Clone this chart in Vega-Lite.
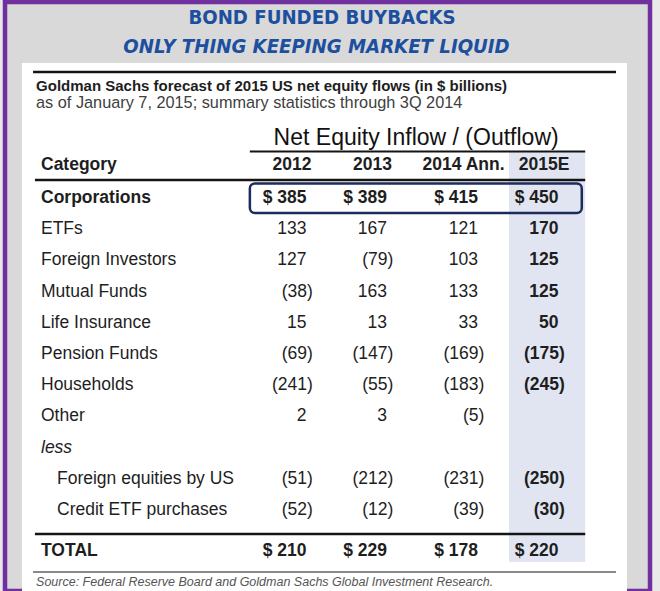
{
  "$schema": "https://vega.github.io/schema/vega-lite/v6.json",
  "width": 645,
  "height": 589,
  "autosize": "none",
  "padding": {"left": 5, "top": 2, "right": 10, "bottom": 0},
  "background": "#e9e9e9",
  "config": {
    "view": {"stroke": null, "fill": "#d9d9d9"},
    "text": {"font": "Liberation Sans", "fontSize": 17.5, "color": "#1e1e1e", "baseline": "middle"},
    "locale": {"number": {"decimal": ".", "thousands": ",", "grouping": [3], "currency": ["$ ", ""]}}
  },
  "datasets": {
    "flows": [
      {"category": "Corporations", "2012": 385, "2013": 389, "2014": 415, "2015": 450},
      {"category": "ETFs", "2012": 133, "2013": 167, "2014": 121, "2015": 170},
      {"category": "Foreign Investors", "2012": 127, "2013": -79, "2014": 103, "2015": 125},
      {"category": "Mutual Funds", "2012": -38, "2013": 163, "2014": 133, "2015": 125},
      {"category": "Life Insurance", "2012": 15, "2013": 13, "2014": 33, "2015": 50},
      {"category": "Pension Funds", "2012": -69, "2013": -147, "2014": -169, "2015": -175},
      {"category": "Households", "2012": -241, "2013": -55, "2014": -183, "2015": -245},
      {"category": "Other", "2012": 2, "2013": 3, "2014": -5},
      {"category": "less"},
      {"category": "Foreign equities by US", "parent": "less", "2012": -51, "2013": -212, "2014": -231, "2015": -250},
      {"category": "Credit ETF purchases", "parent": "less", "2012": -52, "2013": -12, "2014": -39, "2015": -30},
      {"category": "TOTAL", "2012": 210, "2013": 229, "2014": 178, "2015": 220}
    ],
    "columns": [
      {"year": 2012, "label": "2012"},
      {"year": 2013, "label": "2013"},
      {"year": 2014, "label": "2014 Ann."},
      {"year": 2015, "label": "2015E"}
    ]
  },
  "layer": [
    {
      "data": {"values": [{}]},
      "mark": {"type": "rect", "fill": "transparent", "stroke": "#7030a0", "strokeWidth": 4.5, "y2Offset": 20},
      "encoding": {}
    },
    {
      "data": {"values": [{"panel": "table"}]},
      "mark": {"type": "rect", "fill": "#ffffff", "yOffset": -103.8, "y2Offset": 60},
      "encoding": {
        "x": {"datum": 2008, "type": "quantitative", "scale": {"domain": [2008, 2009, 2012, 2013, 2014, 2015, 2016], "range": [17, 36, 301.5, 382, 473, 553.5, 622], "nice": false, "zero": false}, "axis": null},
        "x2": {"datum": 2016},
        "y": {"datum": "Category", "type": "nominal", "scale": {"type": "point", "domain": ["Category", "Corporations", "ETFs", "Foreign Investors", "Mutual Funds", "Life Insurance", "Pension Funds", "Households", "Other", "less", "Foreign equities by US", "Credit ETF purchases", "TOTAL"], "range": [164.8, 539.2], "padding": 0}, "axis": null},
        "y2": {"datum": "TOTAL"}
      }
    },
    {
      "data": {"values": [{"column": "2015E"}]},
      "mark": {"type": "rect", "fill": "#e1e5f1", "yOffset": -14.8, "y2Offset": 20.8},
      "encoding": {
        "x": {"datum": 2014.385, "type": "quantitative", "scale": {"domain": [2008, 2009, 2012, 2013, 2014, 2015, 2016], "range": [17, 36, 301.5, 382, 473, 553.5, 622], "nice": false, "zero": false}, "axis": null},
        "x2": {"datum": 2015.39},
        "y": {"datum": "Category", "type": "nominal", "scale": {"type": "point", "domain": ["Category", "Corporations", "ETFs", "Foreign Investors", "Mutual Funds", "Life Insurance", "Pension Funds", "Households", "Other", "less", "Foreign equities by US", "Credit ETF purchases", "TOTAL"], "range": [164.8, 539.2], "padding": 0}, "axis": null},
        "y2": {"datum": "TOTAL"}
      }
    },
    {
      "data": {"values": [{"rule": "top"}]},
      "mark": {"type": "rule", "color": "#141414", "strokeWidth": 2.5, "yOffset": -94.8},
      "encoding": {
        "x": {"datum": 2008.58, "type": "quantitative", "scale": {"domain": [2008, 2009, 2012, 2013, 2014, 2015, 2016], "range": [17, 36, 301.5, 382, 473, 553.5, 622], "nice": false, "zero": false}, "axis": null},
        "x2": {"datum": 2015.84},
        "y": {"datum": "Category", "type": "nominal", "scale": {"type": "point", "domain": ["Category", "Corporations", "ETFs", "Foreign Investors", "Mutual Funds", "Life Insurance", "Pension Funds", "Households", "Other", "less", "Foreign equities by US", "Credit ETF purchases", "TOTAL"], "range": [164.8, 539.2], "padding": 0}, "axis": null}
      }
    },
    {
      "data": {"values": [{"rule": "net equity"}]},
      "mark": {"type": "rule", "color": "#141414", "strokeWidth": 2, "yOffset": -15.3},
      "encoding": {
        "x": {"datum": 2011.36, "type": "quantitative", "scale": {"domain": [2008, 2009, 2012, 2013, 2014, 2015, 2016], "range": [17, 36, 301.5, 382, 473, 553.5, 622], "nice": false, "zero": false}, "axis": null},
        "x2": {"datum": 2015.39},
        "y": {"datum": "Category", "type": "nominal", "scale": {"type": "point", "domain": ["Category", "Corporations", "ETFs", "Foreign Investors", "Mutual Funds", "Life Insurance", "Pension Funds", "Households", "Other", "less", "Foreign equities by US", "Credit ETF purchases", "TOTAL"], "range": [164.8, 539.2], "padding": 0}, "axis": null}
      }
    },
    {
      "data": {"values": [{"rule": "header"}]},
      "mark": {"type": "rule", "color": "#141414", "strokeWidth": 2.5, "yOffset": 13.2},
      "encoding": {
        "x": {"datum": 2008.68, "type": "quantitative", "scale": {"domain": [2008, 2009, 2012, 2013, 2014, 2015, 2016], "range": [17, 36, 301.5, 382, 473, 553.5, 622], "nice": false, "zero": false}, "axis": null},
        "x2": {"datum": 2015.39},
        "y": {"datum": "Category", "type": "nominal", "scale": {"type": "point", "domain": ["Category", "Corporations", "ETFs", "Foreign Investors", "Mutual Funds", "Life Insurance", "Pension Funds", "Households", "Other", "less", "Foreign equities by US", "Credit ETF purchases", "TOTAL"], "range": [164.8, 539.2], "padding": 0}, "axis": null}
      }
    },
    {
      "data": {"values": [{"rule": "total"}]},
      "mark": {"type": "rule", "color": "#141414", "strokeWidth": 2.5, "yOffset": -7.2},
      "encoding": {
        "x": {"datum": 2008.68, "type": "quantitative", "scale": {"domain": [2008, 2009, 2012, 2013, 2014, 2015, 2016], "range": [17, 36, 301.5, 382, 473, 553.5, 622], "nice": false, "zero": false}, "axis": null},
        "x2": {"datum": 2015.39},
        "y": {"datum": "TOTAL", "type": "nominal", "scale": {"type": "point", "domain": ["Category", "Corporations", "ETFs", "Foreign Investors", "Mutual Funds", "Life Insurance", "Pension Funds", "Households", "Other", "less", "Foreign equities by US", "Credit ETF purchases", "TOTAL"], "range": [164.8, 539.2], "padding": 0}, "axis": null}
      }
    },
    {
      "data": {"values": [{"rule": "source"}]},
      "mark": {"type": "rule", "color": "#8a8a8a", "strokeWidth": 2, "yOffset": 30.8},
      "encoding": {
        "x": {"datum": 2008.58, "type": "quantitative", "scale": {"domain": [2008, 2009, 2012, 2013, 2014, 2015, 2016], "range": [17, 36, 301.5, 382, 473, 553.5, 622], "nice": false, "zero": false}, "axis": null},
        "x2": {"datum": 2015.84},
        "y": {"datum": "TOTAL", "type": "nominal", "scale": {"type": "point", "domain": ["Category", "Corporations", "ETFs", "Foreign Investors", "Mutual Funds", "Life Insurance", "Pension Funds", "Households", "Other", "less", "Foreign equities by US", "Credit ETF purchases", "TOTAL"], "range": [164.8, 539.2], "padding": 0}, "axis": null}
      }
    },
    {
      "data": {"values": [{"box": "Corporations"}]},
      "mark": {"type": "rect", "fill": "transparent", "stroke": "#1c2b5c", "strokeWidth": 2.5, "cornerRadius": 5, "yOffset": -14.5, "y2Offset": 15},
      "encoding": {
        "x": {"datum": 2011.36, "type": "quantitative", "scale": {"domain": [2008, 2009, 2012, 2013, 2014, 2015, 2016], "range": [17, 36, 301.5, 382, 473, 553.5, 622], "nice": false, "zero": false}, "axis": null},
        "x2": {"datum": 2015.34},
        "y": {"datum": "Corporations", "type": "nominal", "scale": {"type": "point", "domain": ["Category", "Corporations", "ETFs", "Foreign Investors", "Mutual Funds", "Life Insurance", "Pension Funds", "Households", "Other", "less", "Foreign equities by US", "Credit ETF purchases", "TOTAL"], "range": [164.8, 539.2], "padding": 0}, "axis": null},
        "y2": {"datum": "Corporations"}
      }
    },
    {
      "data": {"values": [{"text": "BOND FUNDED BUYBACKS"}]},
      "mark": {"type": "text", "font": "DejaVu Sans Condensed", "fontWeight": "bold", "fontSize": 20.2, "color": "#1d4f9f", "align": "center", "dx": -5.5, "dy": -148.8},
      "encoding": {
        "y": {"datum": "Category", "type": "nominal", "scale": {"type": "point", "domain": ["Category", "Corporations", "ETFs", "Foreign Investors", "Mutual Funds", "Life Insurance", "Pension Funds", "Households", "Other", "less", "Foreign equities by US", "Credit ETF purchases", "TOTAL"], "range": [164.8, 539.2], "padding": 0}, "axis": null},
        "text": {"field": "text"}
      }
    },
    {
      "data": {"values": [{"text": "ONLY THING KEEPING MARKET LIQUID"}]},
      "mark": {"type": "text", "font": "DejaVu Sans Condensed", "fontWeight": "bold", "fontStyle": "italic", "fontSize": 20.2, "color": "#1d4f9f", "align": "center", "dx": -11, "dy": -119.8},
      "encoding": {
        "y": {"datum": "Category", "type": "nominal", "scale": {"type": "point", "domain": ["Category", "Corporations", "ETFs", "Foreign Investors", "Mutual Funds", "Life Insurance", "Pension Funds", "Households", "Other", "less", "Foreign equities by US", "Credit ETF purchases", "TOTAL"], "range": [164.8, 539.2], "padding": 0}, "axis": null},
        "text": {"field": "text"}
      }
    },
    {
      "data": {"values": [{"text": "Goldman Sachs forecast of 2015 US net equity flows (in $ billions)"}]},
      "mark": {"type": "text", "fontWeight": "bold", "fontSize": 15, "align": "left", "dy": -80.8},
      "encoding": {
        "x": {"datum": 2008.74, "type": "quantitative", "scale": {"domain": [2008, 2009, 2012, 2013, 2014, 2015, 2016], "range": [17, 36, 301.5, 382, 473, 553.5, 622], "nice": false, "zero": false}, "axis": null},
        "y": {"datum": "Category", "type": "nominal", "scale": {"type": "point", "domain": ["Category", "Corporations", "ETFs", "Foreign Investors", "Mutual Funds", "Life Insurance", "Pension Funds", "Households", "Other", "less", "Foreign equities by US", "Credit ETF purchases", "TOTAL"], "range": [164.8, 539.2], "padding": 0}, "axis": null},
        "text": {"field": "text"}
      }
    },
    {
      "data": {"values": [{"text": "as of January 7, 2015; summary statistics through 3Q 2014"}]},
      "mark": {"type": "text", "fontSize": 16.3, "color": "#404040", "align": "left", "dy": -63.8},
      "encoding": {
        "x": {"datum": 2008.74, "type": "quantitative", "scale": {"domain": [2008, 2009, 2012, 2013, 2014, 2015, 2016], "range": [17, 36, 301.5, 382, 473, 553.5, 622], "nice": false, "zero": false}, "axis": null},
        "y": {"datum": "Category", "type": "nominal", "scale": {"type": "point", "domain": ["Category", "Corporations", "ETFs", "Foreign Investors", "Mutual Funds", "Life Insurance", "Pension Funds", "Households", "Other", "less", "Foreign equities by US", "Credit ETF purchases", "TOTAL"], "range": [164.8, 539.2], "padding": 0}, "axis": null},
        "text": {"field": "text"}
      }
    },
    {
      "data": {"values": [{"text": "Net Equity Inflow / (Outflow)"}]},
      "mark": {"type": "text", "fontSize": 23, "color": "#111111", "align": "center", "dy": -28.8},
      "encoding": {
        "x": {"datum": 2013.32, "type": "quantitative", "scale": {"domain": [2008, 2009, 2012, 2013, 2014, 2015, 2016], "range": [17, 36, 301.5, 382, 473, 553.5, 622], "nice": false, "zero": false}, "axis": null},
        "y": {"datum": "Category", "type": "nominal", "scale": {"type": "point", "domain": ["Category", "Corporations", "ETFs", "Foreign Investors", "Mutual Funds", "Life Insurance", "Pension Funds", "Households", "Other", "less", "Foreign equities by US", "Credit ETF purchases", "TOTAL"], "range": [164.8, 539.2], "padding": 0}, "axis": null},
        "text": {"field": "text"}
      }
    },
    {
      "data": {"name": "columns"},
      "mark": {"type": "text", "fontWeight": "bold", "align": "center", "dx": -14.5, "dy": -1.8},
      "encoding": {
        "x": {"field": "year", "type": "quantitative", "scale": {"domain": [2008, 2009, 2012, 2013, 2014, 2015, 2016], "range": [17, 36, 301.5, 382, 473, 553.5, 622], "nice": false, "zero": false}, "axis": null},
        "y": {"datum": "Category", "type": "nominal", "scale": {"type": "point", "domain": ["Category", "Corporations", "ETFs", "Foreign Investors", "Mutual Funds", "Life Insurance", "Pension Funds", "Households", "Other", "less", "Foreign equities by US", "Credit ETF purchases", "TOTAL"], "range": [164.8, 539.2], "padding": 0}, "axis": null},
        "text": {"field": "label"}
      }
    },
    {
      "data": {"values": [{"text": "Category"}]},
      "mark": {"type": "text", "fontWeight": "bold", "align": "left", "dy": -1.8},
      "encoding": {
        "x": {"datum": 2009, "type": "quantitative", "scale": {"domain": [2008, 2009, 2012, 2013, 2014, 2015, 2016], "range": [17, 36, 301.5, 382, 473, 553.5, 622], "nice": false, "zero": false}, "axis": null},
        "y": {"datum": "Category", "type": "nominal", "scale": {"type": "point", "domain": ["Category", "Corporations", "ETFs", "Foreign Investors", "Mutual Funds", "Life Insurance", "Pension Funds", "Households", "Other", "less", "Foreign equities by US", "Credit ETF purchases", "TOTAL"], "range": [164.8, 539.2], "padding": 0}, "axis": null},
        "text": {"field": "text"}
      }
    },
    {
      "data": {"name": "flows"},
      "transform": [{"filter": "indexof(['Corporations', 'TOTAL', 'less'], datum.category) < 0 && datum.parent != 'less'"}],
      "mark": {"type": "text", "align": "left"},
      "encoding": {
        "x": {"datum": 2009, "type": "quantitative", "scale": {"domain": [2008, 2009, 2012, 2013, 2014, 2015, 2016], "range": [17, 36, 301.5, 382, 473, 553.5, 622], "nice": false, "zero": false}, "axis": null},
        "y": {"field": "category", "type": "nominal", "scale": {"type": "point", "domain": ["Category", "Corporations", "ETFs", "Foreign Investors", "Mutual Funds", "Life Insurance", "Pension Funds", "Households", "Other", "less", "Foreign equities by US", "Credit ETF purchases", "TOTAL"], "range": [164.8, 539.2], "padding": 0}, "axis": null},
        "text": {"field": "category"}
      }
    },
    {
      "data": {"name": "flows"},
      "transform": [{"filter": "datum.parent == 'less'"}],
      "mark": {"type": "text", "align": "left", "dx": 16},
      "encoding": {
        "x": {"datum": 2009, "type": "quantitative", "scale": {"domain": [2008, 2009, 2012, 2013, 2014, 2015, 2016], "range": [17, 36, 301.5, 382, 473, 553.5, 622], "nice": false, "zero": false}, "axis": null},
        "y": {"field": "category", "type": "nominal", "scale": {"type": "point", "domain": ["Category", "Corporations", "ETFs", "Foreign Investors", "Mutual Funds", "Life Insurance", "Pension Funds", "Households", "Other", "less", "Foreign equities by US", "Credit ETF purchases", "TOTAL"], "range": [164.8, 539.2], "padding": 0}, "axis": null},
        "text": {"field": "category"}
      }
    },
    {
      "data": {"name": "flows"},
      "transform": [{"filter": "datum.category == 'less'"}],
      "mark": {"type": "text", "align": "left", "fontStyle": "italic"},
      "encoding": {
        "x": {"datum": 2009, "type": "quantitative", "scale": {"domain": [2008, 2009, 2012, 2013, 2014, 2015, 2016], "range": [17, 36, 301.5, 382, 473, 553.5, 622], "nice": false, "zero": false}, "axis": null},
        "y": {"field": "category", "type": "nominal", "scale": {"type": "point", "domain": ["Category", "Corporations", "ETFs", "Foreign Investors", "Mutual Funds", "Life Insurance", "Pension Funds", "Households", "Other", "less", "Foreign equities by US", "Credit ETF purchases", "TOTAL"], "range": [164.8, 539.2], "padding": 0}, "axis": null},
        "text": {"field": "category"}
      }
    },
    {
      "data": {"name": "flows"},
      "transform": [{"filter": "datum.category == 'Corporations'"}],
      "mark": {"type": "text", "align": "left", "fontWeight": "bold"},
      "encoding": {
        "x": {"datum": 2009, "type": "quantitative", "scale": {"domain": [2008, 2009, 2012, 2013, 2014, 2015, 2016], "range": [17, 36, 301.5, 382, 473, 553.5, 622], "nice": false, "zero": false}, "axis": null},
        "y": {"field": "category", "type": "nominal", "scale": {"type": "point", "domain": ["Category", "Corporations", "ETFs", "Foreign Investors", "Mutual Funds", "Life Insurance", "Pension Funds", "Households", "Other", "less", "Foreign equities by US", "Credit ETF purchases", "TOTAL"], "range": [164.8, 539.2], "padding": 0}, "axis": null},
        "text": {"field": "category"}
      }
    },
    {
      "data": {"name": "flows"},
      "transform": [{"filter": "datum.category == 'TOTAL'"}],
      "mark": {"type": "text", "align": "left", "fontWeight": "bold", "dy": 9.8},
      "encoding": {
        "x": {"datum": 2009, "type": "quantitative", "scale": {"domain": [2008, 2009, 2012, 2013, 2014, 2015, 2016], "range": [17, 36, 301.5, 382, 473, 553.5, 622], "nice": false, "zero": false}, "axis": null},
        "y": {"field": "category", "type": "nominal", "scale": {"type": "point", "domain": ["Category", "Corporations", "ETFs", "Foreign Investors", "Mutual Funds", "Life Insurance", "Pension Funds", "Households", "Other", "less", "Foreign equities by US", "Credit ETF purchases", "TOTAL"], "range": [164.8, 539.2], "padding": 0}, "axis": null},
        "text": {"field": "category"}
      }
    },
    {
      "data": {"name": "flows"},
      "transform": [
        {"fold": ["2012", "2013", "2014", "2015"], "as": ["year", "value"]},
        {"filter": "isValid(datum.value) && datum.year != '2015' && datum.category != 'Corporations' && datum.category != 'TOTAL' && datum.value >= 0"}
      ],
      "mark": {"type": "text", "align": "right"},
      "encoding": {
        "x": {"field": "year", "type": "quantitative", "scale": {"domain": [2008, 2009, 2012, 2013, 2014, 2015, 2016], "range": [17, 36, 301.5, 382, 473, 553.5, 622], "nice": false, "zero": false}, "axis": null},
        "y": {"field": "category", "type": "nominal", "scale": {"type": "point", "domain": ["Category", "Corporations", "ETFs", "Foreign Investors", "Mutual Funds", "Life Insurance", "Pension Funds", "Households", "Other", "less", "Foreign equities by US", "Credit ETF purchases", "TOTAL"], "range": [164.8, 539.2], "padding": 0}, "axis": null},
        "text": {"field": "value", "type": "quantitative", "format": "(d"}
      }
    },
    {
      "data": {"name": "flows"},
      "transform": [
        {"fold": ["2012", "2013", "2014", "2015"], "as": ["year", "value"]},
        {"filter": "isValid(datum.value) && datum.year != '2015' && datum.category != 'Corporations' && datum.category != 'TOTAL' && datum.value < 0"}
      ],
      "mark": {"type": "text", "align": "right", "dx": 6.3},
      "encoding": {
        "x": {"field": "year", "type": "quantitative", "scale": {"domain": [2008, 2009, 2012, 2013, 2014, 2015, 2016], "range": [17, 36, 301.5, 382, 473, 553.5, 622], "nice": false, "zero": false}, "axis": null},
        "y": {"field": "category", "type": "nominal", "scale": {"type": "point", "domain": ["Category", "Corporations", "ETFs", "Foreign Investors", "Mutual Funds", "Life Insurance", "Pension Funds", "Households", "Other", "less", "Foreign equities by US", "Credit ETF purchases", "TOTAL"], "range": [164.8, 539.2], "padding": 0}, "axis": null},
        "text": {"field": "value", "type": "quantitative", "format": "(d"}
      }
    },
    {
      "data": {"name": "flows"},
      "transform": [
        {"fold": ["2012", "2013", "2014", "2015"], "as": ["year", "value"]},
        {"filter": "isValid(datum.value) && datum.year == '2015' && datum.category != 'Corporations' && datum.category != 'TOTAL' && datum.value >= 0"}
      ],
      "mark": {"type": "text", "align": "right", "fontWeight": "bold"},
      "encoding": {
        "x": {"field": "year", "type": "quantitative", "scale": {"domain": [2008, 2009, 2012, 2013, 2014, 2015, 2016], "range": [17, 36, 301.5, 382, 473, 553.5, 622], "nice": false, "zero": false}, "axis": null},
        "y": {"field": "category", "type": "nominal", "scale": {"type": "point", "domain": ["Category", "Corporations", "ETFs", "Foreign Investors", "Mutual Funds", "Life Insurance", "Pension Funds", "Households", "Other", "less", "Foreign equities by US", "Credit ETF purchases", "TOTAL"], "range": [164.8, 539.2], "padding": 0}, "axis": null},
        "text": {"field": "value", "type": "quantitative", "format": "(d"}
      }
    },
    {
      "data": {"name": "flows"},
      "transform": [
        {"fold": ["2012", "2013", "2014", "2015"], "as": ["year", "value"]},
        {"filter": "isValid(datum.value) && datum.year == '2015' && datum.category != 'Corporations' && datum.category != 'TOTAL' && datum.value < 0"}
      ],
      "mark": {"type": "text", "align": "right", "fontWeight": "bold", "dx": 6.3},
      "encoding": {
        "x": {"field": "year", "type": "quantitative", "scale": {"domain": [2008, 2009, 2012, 2013, 2014, 2015, 2016], "range": [17, 36, 301.5, 382, 473, 553.5, 622], "nice": false, "zero": false}, "axis": null},
        "y": {"field": "category", "type": "nominal", "scale": {"type": "point", "domain": ["Category", "Corporations", "ETFs", "Foreign Investors", "Mutual Funds", "Life Insurance", "Pension Funds", "Households", "Other", "less", "Foreign equities by US", "Credit ETF purchases", "TOTAL"], "range": [164.8, 539.2], "padding": 0}, "axis": null},
        "text": {"field": "value", "type": "quantitative", "format": "(d"}
      }
    },
    {
      "data": {"name": "flows"},
      "transform": [
        {"fold": ["2012", "2013", "2014", "2015"], "as": ["year", "value"]},
        {"filter": "isValid(datum.value) && datum.category == 'Corporations'"}
      ],
      "mark": {"type": "text", "align": "right", "fontWeight": "bold"},
      "encoding": {
        "x": {"field": "year", "type": "quantitative", "scale": {"domain": [2008, 2009, 2012, 2013, 2014, 2015, 2016], "range": [17, 36, 301.5, 382, 473, 553.5, 622], "nice": false, "zero": false}, "axis": null},
        "y": {"field": "category", "type": "nominal", "scale": {"type": "point", "domain": ["Category", "Corporations", "ETFs", "Foreign Investors", "Mutual Funds", "Life Insurance", "Pension Funds", "Households", "Other", "less", "Foreign equities by US", "Credit ETF purchases", "TOTAL"], "range": [164.8, 539.2], "padding": 0}, "axis": null},
        "text": {"field": "value", "type": "quantitative", "format": "$d"}
      }
    },
    {
      "data": {"name": "flows"},
      "transform": [
        {"fold": ["2012", "2013", "2014", "2015"], "as": ["year", "value"]},
        {"filter": "isValid(datum.value) && datum.category == 'TOTAL'"}
      ],
      "mark": {"type": "text", "align": "right", "fontWeight": "bold", "dy": 9.8},
      "encoding": {
        "x": {"field": "year", "type": "quantitative", "scale": {"domain": [2008, 2009, 2012, 2013, 2014, 2015, 2016], "range": [17, 36, 301.5, 382, 473, 553.5, 622], "nice": false, "zero": false}, "axis": null},
        "y": {"field": "category", "type": "nominal", "scale": {"type": "point", "domain": ["Category", "Corporations", "ETFs", "Foreign Investors", "Mutual Funds", "Life Insurance", "Pension Funds", "Households", "Other", "less", "Foreign equities by US", "Credit ETF purchases", "TOTAL"], "range": [164.8, 539.2], "padding": 0}, "axis": null},
        "text": {"field": "value", "type": "quantitative", "format": "$d"}
      }
    },
    {
      "data": {"values": [{"text": "Source: Federal Reserve Board and Goldman Sachs Global Investment Research."}]},
      "mark": {"type": "text", "fontSize": 12.5, "fontStyle": "italic", "color": "#555555", "align": "left", "dy": 40.8},
      "encoding": {
        "x": {"datum": 2008.74, "type": "quantitative", "scale": {"domain": [2008, 2009, 2012, 2013, 2014, 2015, 2016], "range": [17, 36, 301.5, 382, 473, 553.5, 622], "nice": false, "zero": false}, "axis": null},
        "y": {"datum": "TOTAL", "type": "nominal", "scale": {"type": "point", "domain": ["Category", "Corporations", "ETFs", "Foreign Investors", "Mutual Funds", "Life Insurance", "Pension Funds", "Households", "Other", "less", "Foreign equities by US", "Credit ETF purchases", "TOTAL"], "range": [164.8, 539.2], "padding": 0}, "axis": null},
        "text": {"field": "text"}
      }
    }
  ]
}
